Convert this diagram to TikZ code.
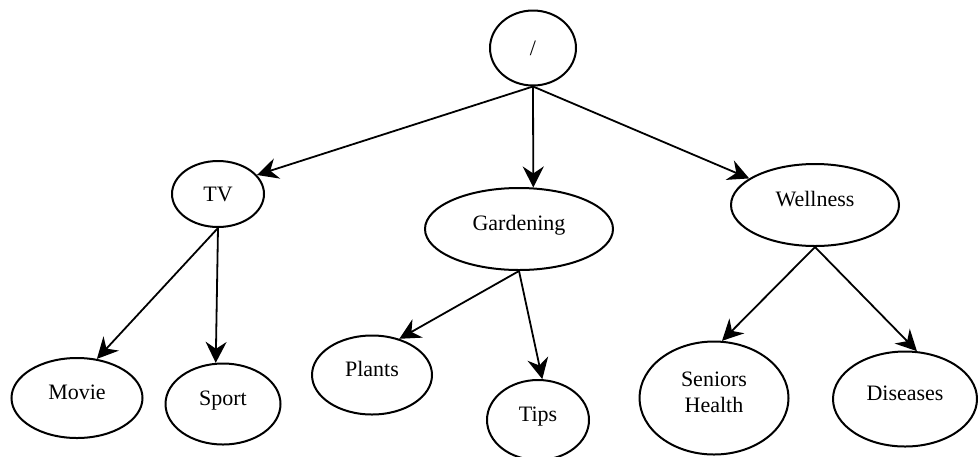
\documentclass[tikz,border=0pt]{standalone}
\usepackage{fontspec}
\setmainfont{Liberation Serif}
\usetikzlibrary{shapes.geometric,arrows.meta}

\begin{document}
\begin{tikzpicture}[
        x=0.5pt, y=-0.5pt,
        topic/.style={draw, ellipse, line width=1pt, inner sep=0pt, align=center, text depth=6pt, font=\fontsize{11}{13}\selectfont},
        arrow/.style={-{Stealth[length=10.5pt, width=10.5pt, inset=3.5pt]}, line width=0.9pt},
    ]
        \useasboundingbox (0,0) rectangle (978,456);

        % Root and first level
        \node[topic, text depth={}, minimum width=43pt, minimum height=37.5pt] (root) at (533,48) {/};
        \node[topic, text depth={}, minimum width=46pt, minimum height=33pt] (tv) at (218,194) {TV};
        \node[topic, minimum width=94pt, minimum height=41pt] (gardening) at (519,229) {Gardening};
        \node[topic, minimum width=84pt, minimum height=41pt] (wellness) at (815,205) {Wellness};

        % Leaves
        \node[topic, minimum width=65.5pt, minimum height=40pt] (movie) at (77,398) {Movie};
        \node[topic, minimum width=57.5pt, minimum height=40.5pt] (sport) at (223,404) {Sport};
        \node[topic, minimum width=60pt, minimum height=39.5pt] (plants) at (372,375) {Plants};
        \node[topic, minimum width=51pt, minimum height=40pt] (tips) at (538,420) {Tips};
        \node[topic, minimum width=74.5pt, minimum height=56.5pt] (seniors) at (714,398) {Seniors\\Health};
        \node[topic, minimum width=72pt, minimum height=47.5pt] (diseases) at (905,399) {Diseases};

        % Arrows
        \draw[arrow] (root.south) -- (tv.26);
        \draw[arrow] (root.south) -- (gardening.71);
        \draw[arrow] (root.south) -- (wellness.158);
        \draw[arrow] (tv.south) -- (movie.63);
        \draw[arrow] (tv.south) -- (sport.100);
        \draw[arrow] (gardening.south) -- (plants.53);
        \draw[arrow] (gardening.south) -- (tips.84);
        \draw[arrow] (wellness.south) -- (seniors.82);
        \draw[arrow] (wellness.south) -- (diseases.76);
    \end{tikzpicture}
\end{document}
